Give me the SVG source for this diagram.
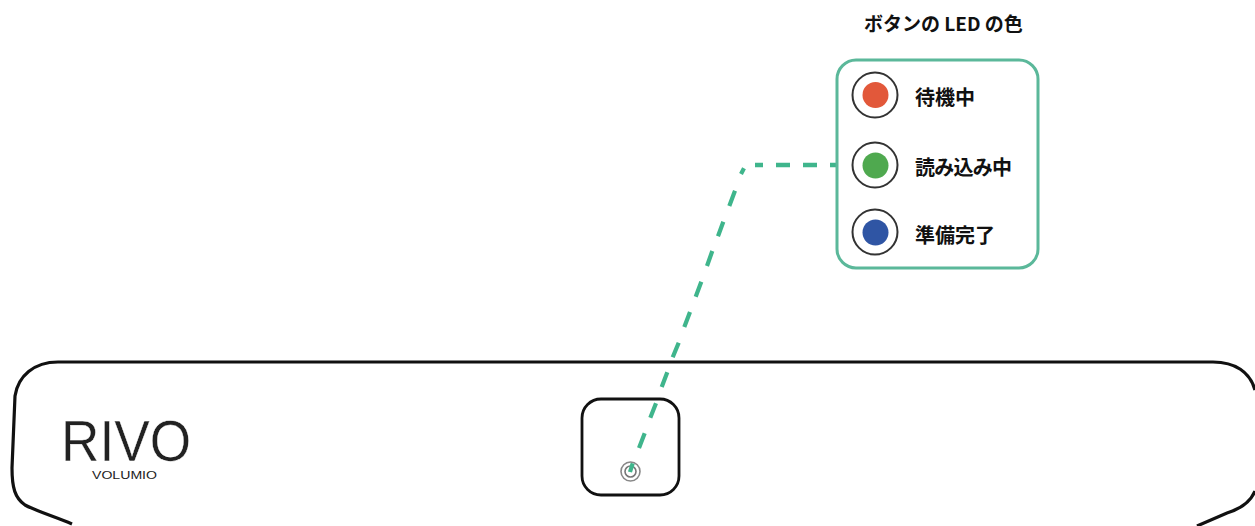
<svg xmlns="http://www.w3.org/2000/svg" width="1255" height="526" viewBox="0 0 1255 526">
<style>
.t{font-family:"Noto Sans CJK JP","Noto Sans",sans-serif;font-weight:700;fill:#111;font-size:20px}
.ring{fill:#fff;stroke:#333;stroke-width:2}
.dev{fill:none;stroke:#111;stroke-width:3.2}
.logo{font-family:"Liberation Sans",sans-serif;fill:#222}
</style>
<rect width="1255" height="526" fill="#fff"/>
<g id="device">
<path class="dev" d="M72 524C56 517 36 511 25 505C15 498 12 488 12 468L15 396C18 376 34 362 58 362L1213 362C1235 362 1250 372 1255 390M1255 491C1250 503 1240 509 1227 513L1197 526"/>
<text class="logo" x="61" y="461" font-size="58" textLength="130" lengthAdjust="spacingAndGlyphs" stroke="#fff" stroke-width="0.4">RIVO</text>
<text class="logo" x="92" y="479" font-size="11" textLength="65" lengthAdjust="spacingAndGlyphs" fill="#444">VOLUMIO</text>
</g>
<g id="button">
<rect x="582" y="399" width="97" height="96" rx="19" fill="#fff" stroke="#111" stroke-width="2.8"/>
<circle cx="630.500" cy="471.500" r="9.500" fill="none" stroke="#888" stroke-width="1.600"/>
<circle cx="630.500" cy="471.500" r="5.500" fill="none" stroke="#777" stroke-width="1.600"/>
</g>
<g id="connectors">
<path d="M755 165H763M776 165H790M803 165H817M830 165H838" fill="none" stroke="#3fb58c" stroke-width="4.600"/>
<path d="M744 168.300L741 174M735 190.700L729.300 206M723.300 221.700L718 236.300M712.300 251L707 266M701.300 281.700L695.700 296.700M690 312L684.300 327M678.700 342.700L672.700 357.300M667.300 372.300L661.700 387M656 403.300L650.300 417.700M644.700 433.300L639 448M632.700 463.300L630 472" fill="none" stroke="#3fb58c" stroke-width="4.200"/>
</g>
<g id="legend-title"><text class="t" x="864" y="31" style="font-size:19px">ボタンの LED の色</text></g>
<g id="legend-box"><path d="M856 60H1019A19 19 0 0 1 1038 79V249A19 19 0 0 1 1019 268H856A19 19 0 0 1 837 249V79A19 19 0 0 1 856 60Z" fill="none" stroke="#5bb89a" stroke-width="3"/></g>
<g id="standby"><circle class="ring" cx="875" cy="95" r="22.500"/><circle cx="875.500" cy="95" r="13" fill="#e2583a"/><text class="t" x="915" y="105">待機中</text></g>
<g id="loading"><circle class="ring" cx="875" cy="165" r="22.500"/><circle cx="875.500" cy="165.500" r="13" fill="#4fa94f"/><text class="t" x="915" y="175" textLength="97">読み込み中</text></g>
<g id="ready"><circle class="ring" cx="875" cy="232" r="22.500"/><circle cx="875.500" cy="232.500" r="13" fill="#2f55a4"/><text class="t" x="915" y="243">準備完了</text></g>
</svg>
